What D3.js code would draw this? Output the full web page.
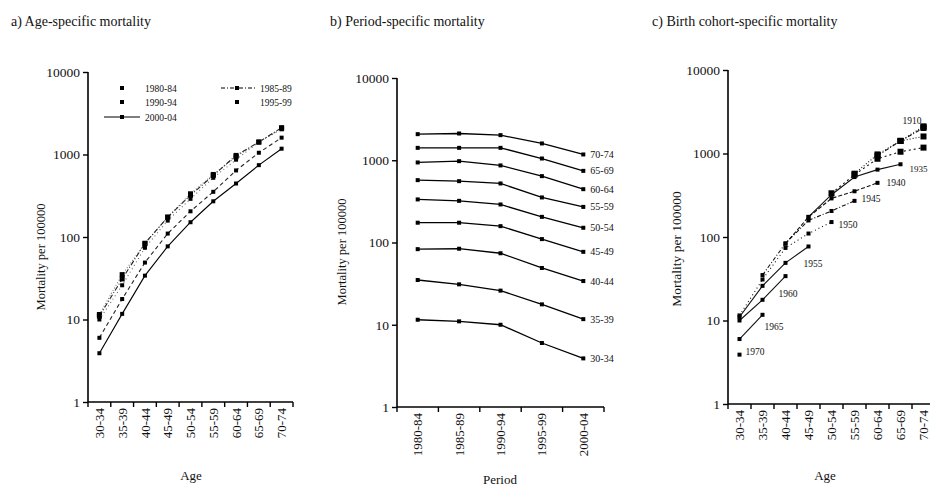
<!DOCTYPE html>
<html>
<head>
<meta charset="utf-8">
<script src="https://cdn.jsdelivr.net/npm/d3@7"></script>
<style>
  body { margin: 0; background: #fff; }
  svg text { font-family: "Liberation Serif", "DejaVu Serif", serif; fill: #111; }
</style>
</head>
<body>
<svg width="930" height="488"></svg>
<script>
// data
var ages    = ["30-34","35-39","40-44","45-49","50-54","55-59","60-64","65-69","70-74"];
var periods = ["1980-84","1985-89","1990-94","1995-99","2000-04"];
// mortality per 100000, by age group, one array per period
var r1980 = [11.5, 35, 83, 174, 334, 573, 940, 1415, 2076];
var r1985 = [11, 31, 84, 174, 321, 557, 975, 1415, 2115];
var r1990 = [10, 26, 74, 158, 290, 522, 865, 1415, 2020];
var r1995 = [6, 17.7, 49, 110, 205, 353, 641, 1050, 1600];
var r2000 = [3.9, 11.7, 34, 77, 151, 271, 445, 743, 1176];
var cohorts = [1910, 1915, 1920, 1925, 1930, 1935, 1940, 1945, 1950, 1955, 1960, 1965, 1970];
var cohortLabels = [1910, 1935, 1940, 1945, 1950, 1955, 1960, 1965, 1970];
var yTicks = [1, 10, 100, 1000, 10000];

var rates = [r1980, r1985, r1990, r1995, r2000];

var svg = d3.select("svg");

// shared helpers
function logY(top, bottom) {
  return d3.scaleLog().domain([1, 10000]).range([bottom, top]);
}

function drawAxes(g, x, y, cats, labelFont) {
  var x0 = x.range()[0], x1 = x.range()[1], y0 = y(1);
  // y axis
  g.append("g")
    .attr("transform", "translate(" + x0 + ",0)")
    .call(d3.axisLeft(y).tickValues(yTicks).tickFormat(d3.format("d")).tickSize(5).tickPadding(3))
    .call(function(a) {
      a.select(".domain").attr("d", "M0," + y(10000) + "V" + y0).attr("stroke-width", 1.6);
      a.selectAll(".tick line").attr("stroke-width", 1.4);
      a.selectAll("text").style("font-size", "13.5px");
    });
  // x axis, labels at band centres
  var xa = g.append("g")
    .attr("transform", "translate(0," + y0 + ")")
    .call(d3.axisBottom(x).tickSize(0).tickPadding(6));
  xa.select(".domain").attr("d", "M" + x0 + ",0H" + x1).attr("stroke-width", 1.6);
  xa.selectAll("text")
    .style("font-size", labelFont)
    .attr("text-anchor", "end")
    .attr("transform", "rotate(-90)")
    .attr("x", -6).attr("y", 0).attr("dy", "0.35em");
  // ticks at band boundaries
  var bounds = cats.map(function(c) { return x(c); }).concat([x1]);
  xa.selectAll(".bt").data(bounds).enter().append("line")
    .attr("x1", function(d) { return d; }).attr("x2", function(d) { return d; })
    .attr("y1", 0).attr("y2", 5)
    .attr("stroke", "#000").attr("stroke-width", 1.4);
}

function yLabel(g, xPos, yPos, size) {
  g.append("text")
    .attr("transform", "translate(" + xPos + "," + yPos + ") rotate(-90)")
    .attr("text-anchor", "middle")
    .style("font-size", size)
    .text("Mortality per 100000");
}

function markers(g, pts, size) {
  g.selectAll(null).data(pts).enter().append("rect")
    .attr("x", function(d) { return d[0] - size / 2; })
    .attr("y", function(d) { return d[1] - size / 2; })
    .attr("width", size).attr("height", size)
    .attr("fill", "#000");
}

// ---------- a) Age-specific ----------
var ga = svg.append("g");
ga.append("text").attr("x", 11).attr("y", 26).style("font-size", "14px").text("a) Age-specific mortality");
var xa = d3.scaleBand().domain(ages).range([88, 293]);
var ya = logY(72, 402);
drawAxes(ga, xa, ya, ages, "13px");
yLabel(ga, 45, 257, "12.5px");
ga.append("text").attr("x", 191).attr("y", 480).attr("text-anchor", "middle").style("font-size", "13px").text("Age");

var dashA = ["1,2", "5,2,1,2", "1,3", "4,3", null];
var colA  = ["#777", "#222", "#666", "#222", "#000"];
var lineA = d3.line()
  .x(function(d, i) { return xa(ages[i]) + xa.bandwidth() / 2; })
  .y(function(d) { return ya(d); });
rates.forEach(function(r, k) {
  ga.append("path").attr("d", lineA(r)).attr("fill", "none")
    .attr("stroke", colA[k]).attr("stroke-width", 1.1)
    .attr("stroke-dasharray", dashA[k]);
  markers(ga, r.map(function(v, i) { return [xa(ages[i]) + xa.bandwidth() / 2, ya(v)]; }), k < 2 ? 5 : 4);
});

// legend
var leg = ga.append("g").style("font-size", "9.5px");
var legPos = [[122, 88, 145], [237, 88, 260], [122, 102, 145], [237, 102, 260], [122, 117, 145]];
periods.forEach(function(p, k) {
  var q = legPos[k];
  if (k === 1) leg.append("line").attr("x1", q[0] - 16).attr("x2", q[0] + 18).attr("y1", q[1]).attr("y2", q[1])
    .attr("stroke", "#000").attr("stroke-dasharray", "4,2,1,2");
  if (k === 4) leg.append("line").attr("x1", q[0] - 18).attr("x2", q[0] + 18).attr("y1", q[1]).attr("y2", q[1])
    .attr("stroke", "#000").attr("stroke-width", 1.2);
  leg.append("rect").attr("x", q[0] - 2).attr("y", q[1] - 2).attr("width", 4).attr("height", 4).attr("fill", "#000");
  leg.append("text").attr("x", q[2]).attr("y", q[1] + 3.5).attr("fill", "#444").text(p);
});

// ---------- b) Period-specific ----------
var gb = svg.append("g");
gb.append("text").attr("x", 330).attr("y", 26).style("font-size", "14px").text("b) Period-specific mortality");
var xb = d3.scaleBand().domain(periods).range([397, 604]);
var yb = logY(78, 407);
drawAxes(gb, xb, yb, periods, "13px");
yLabel(gb, 346, 252, "12.5px");
gb.append("text").attr("x", 500).attr("y", 484).attr("text-anchor", "middle").style("font-size", "13px").text("Period");

var lineB = d3.line()
  .x(function(d, j) { return xb(periods[j]) + xb.bandwidth() / 2; })
  .y(function(d) { return yb(d); });
ages.forEach(function(a, i) {
  var vals = rates.map(function(r) { return r[i]; });
  gb.append("path").attr("d", lineB(vals)).attr("fill", "none")
    .attr("stroke", "#000").attr("stroke-width", 1.3);
  markers(gb, vals.map(function(v, j) { return [xb(periods[j]) + xb.bandwidth() / 2, yb(v)]; }), 4);
  gb.append("text")
    .attr("x", xb(periods[4]) + xb.bandwidth() / 2 + 7)
    .attr("y", yb(vals[4]) + 3.5)
    .style("font-size", "10px").attr("fill", "#333")
    .text(a);
});

// ---------- c) Birth cohort-specific ----------
var gc = svg.append("g");
gc.append("text").attr("x", 652).attr("y", 26).style("font-size", "14px").text("c) Birth cohort-specific mortality");
var xc = d3.scaleBand().domain(ages).range([728, 935]);
var yc = logY(70, 404);
drawAxes(gc, xc, yc, ages, "13px");
yLabel(gc, 681, 249, "13.5px");
gc.append("text").attr("x", 825).attr("y", 480).attr("text-anchor", "middle").style("font-size", "13px").text("Age");

// cohort = period start - age start; pick matching cells from the table
function cohortPoints(c) {
  var pts = [];
  ages.forEach(function(a, i) {
    periods.forEach(function(p, j) {
      if (+p.slice(0, 4) - +a.slice(0, 2) === c) pts.push({ i: i, v: rates[j][i] });
    });
  });
  return pts;
}
var dashC = { 1915: "1,2", 1920: "4,2,1,2", 1925: "1,2", 1930: "2,3", 1935: null, 1940: "4,2",
              1945: "4,2,1,2", 1950: "1,3", 1955: null, 1960: null, 1965: null };
// label offsets from the last point of each cohort
var labOff = { 1910: [-21, -7], 1935: [9, 4], 1940: [9, 0], 1945: [7, -2], 1950: [7, 2],
               1955: [-5, 17], 1960: [-7, 17], 1965: [2, 12], 1970: [6, -3] };
var lineC = d3.line()
  .x(function(d) { return xc(ages[d.i]) + xc.bandwidth() / 2; })
  .y(function(d) { return yc(d.v); });
cohorts.forEach(function(c) {
  var pts = cohortPoints(c);
  if (pts.length > 1) {
    gc.append("path").attr("d", lineC(pts)).attr("fill", "none")
      .attr("stroke", "#111").attr("stroke-width", 1.1)
      .attr("stroke-dasharray", dashC[c]);
  }
  markers(gc, pts.map(function(d) { return [xc(ages[d.i]) + xc.bandwidth() / 2, yc(d.v)]; }), c <= 1930 ? 6 : 4);
  if (cohortLabels.indexOf(c) >= 0) {
    var last = pts[pts.length - 1];
    gc.append("text")
      .attr("x", xc(ages[last.i]) + xc.bandwidth() / 2 + labOff[c][0])
      .attr("y", yc(last.v) + 3.5 + labOff[c][1])
      .style("font-size", c === 1935 ? "9px" : "9.5px").attr("fill", "#444")
      .text(c);
  }
});
</script>
</body>
</html>
